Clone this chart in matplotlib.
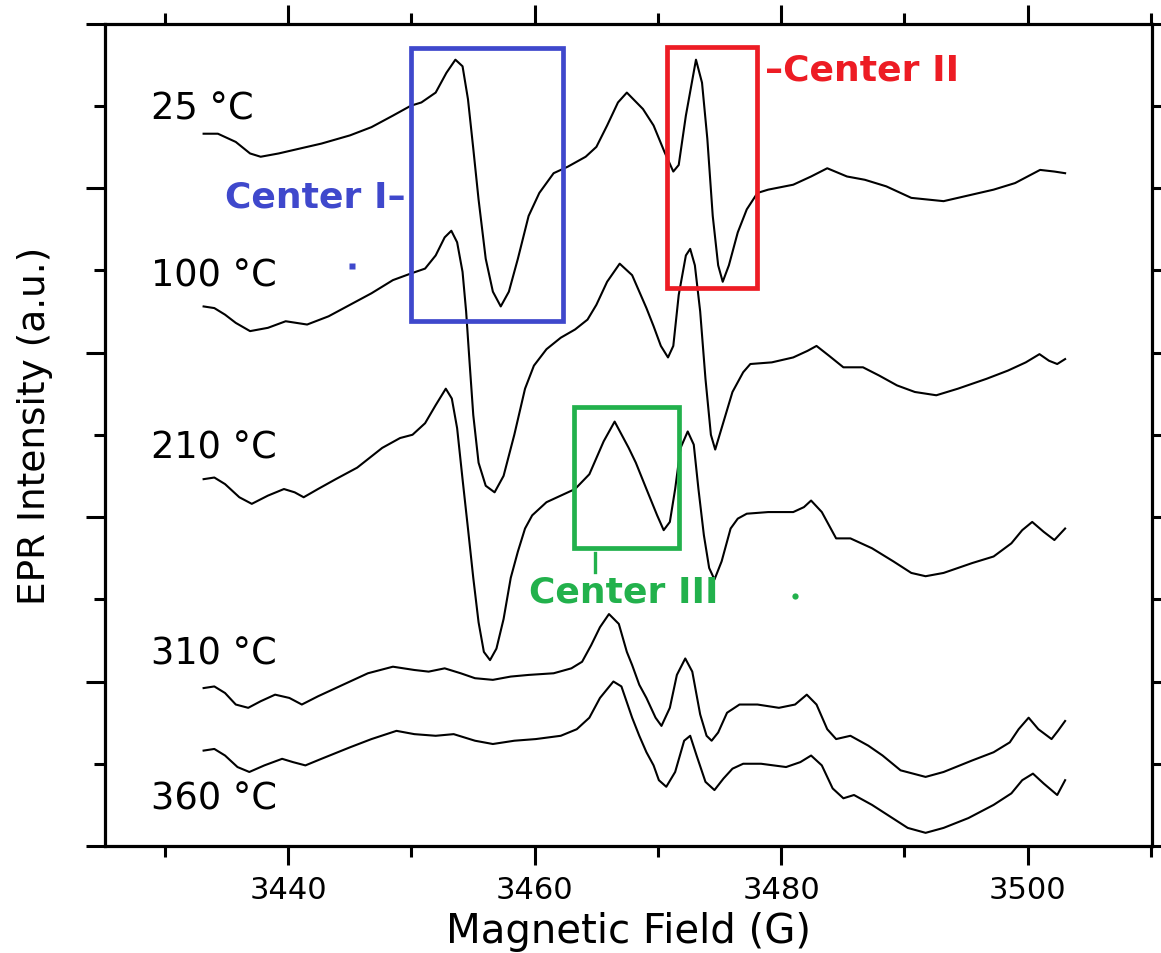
import matplotlib
matplotlib.use("Agg")
import matplotlib.pyplot as plt
from matplotlib.patches import Rectangle
from matplotlib.ticker import MultipleLocator, NullFormatter

# ---------------- data ----------------
field_25 = [3433.15, 3434.31, 3435.76, 3436.92, 3437.78, 3439.24, 3440.97, 3442.71, 3445.03, 3446.77,
            3448.51, 3449.96, 3450.82, 3451.98, 3452.85, 3453.58, 3454.16, 3454.60, 3455.03, 3455.46,
            3456.04, 3456.62, 3457.26, 3457.92, 3458.65, 3459.52, 3460.39, 3461.55, 3462.71, 3464.15,
            3465.02, 3465.89, 3466.77, 3467.49, 3468.80, 3469.66, 3470.54, 3471.26, 3471.70, 3472.28,
            3473.10, 3473.59, 3474.02, 3474.46, 3474.90, 3475.27, 3475.77, 3476.49, 3477.22, 3478.09,
            3478.96, 3480.99, 3482.44, 3483.75, 3485.35, 3486.80, 3488.54, 3490.57, 3493.19, 3495.51,
            3497.25, 3498.99, 3501.02, 3502.18, 3503.05]
int_25 = [4.33, 4.33, 4.28, 4.21, 4.19, 4.21, 4.24, 4.27, 4.32, 4.37,
          4.44, 4.50, 4.52, 4.58, 4.70, 4.78, 4.74, 4.54, 4.24, 3.93,
          3.57, 3.37, 3.28, 3.37, 3.57, 3.83, 3.97, 4.09, 4.13, 4.19,
          4.25, 4.38, 4.52, 4.58, 4.48, 4.38, 4.22, 4.10, 4.14, 4.44,
          4.78, 4.64, 4.30, 3.83, 3.53, 3.43, 3.53, 3.73, 3.87, 3.97,
          3.99, 4.02, 4.07, 4.12, 4.07, 4.05, 4.01, 3.94, 3.92, 3.96,
          3.99, 4.03, 4.11, 4.10, 4.09]

field_100 = [3433.15, 3434.02, 3434.89, 3435.76, 3436.92, 3438.37, 3439.81, 3440.68, 3441.55, 3443.29,
             3445.03, 3446.77, 3448.51, 3449.96, 3451.12, 3451.98, 3452.71, 3453.25, 3453.72, 3454.16,
             3454.45, 3454.73, 3455.03, 3455.46, 3456.04, 3456.76, 3457.49, 3458.36, 3459.23, 3459.95,
             3460.97, 3462.13, 3463.29, 3464.30, 3465.02, 3465.89, 3466.91, 3467.92, 3469.08, 3469.66,
             3470.25, 3470.83, 3471.26, 3471.70, 3472.28, 3472.63, 3473.01, 3473.44, 3473.87, 3474.31,
             3474.66, 3475.18, 3476.06, 3476.93, 3477.51, 3479.25, 3480.99, 3482.15, 3482.88, 3483.90,
             3485.06, 3486.65, 3487.96, 3489.41, 3490.86, 3492.60, 3494.35, 3496.67, 3498.41, 3499.86,
             3500.97, 3501.74, 3502.41, 3503.05]
int_100 = [3.28, 3.27, 3.23, 3.18, 3.13, 3.15, 3.19, 3.18, 3.17, 3.22,
           3.29, 3.36, 3.44, 3.48, 3.51, 3.59, 3.70, 3.74, 3.67, 3.49,
           3.25, 2.94, 2.62, 2.33, 2.19, 2.15, 2.25, 2.50, 2.78, 2.92,
           3.02, 3.09, 3.14, 3.20, 3.29, 3.43, 3.54, 3.47, 3.27, 3.16,
           3.04, 2.97, 3.04, 3.35, 3.59, 3.63, 3.53, 3.25, 2.84, 2.50,
           2.41, 2.54, 2.76, 2.88, 2.93, 2.94, 2.97, 3.01, 3.04, 2.98,
           2.91, 2.91, 2.86, 2.80, 2.76, 2.74, 2.78, 2.84, 2.89, 2.94,
           2.99, 2.95, 2.93, 2.96]

field_210 = [3433.15, 3434.02, 3434.89, 3436.05, 3437.06, 3438.37, 3439.67, 3440.54, 3441.27, 3442.43,
             3443.87, 3445.61, 3447.64, 3449.09, 3450.10, 3451.12, 3451.98, 3452.80, 3453.29, 3453.72,
             3454.16, 3454.60, 3455.03, 3455.46, 3455.89, 3456.39, 3456.91, 3457.49, 3458.07, 3458.65,
             3459.23, 3459.81, 3460.97, 3462.42, 3463.29, 3464.45, 3465.61, 3466.50, 3467.64, 3468.22,
             3469.08, 3469.95, 3470.48, 3470.98, 3471.41, 3471.85, 3472.43, 3472.92, 3473.30, 3473.74,
             3474.17, 3474.60, 3475.18, 3475.91, 3476.49, 3477.22, 3478.96, 3480.99, 3481.86, 3482.44,
             3483.31, 3484.47, 3485.63, 3487.38, 3489.12, 3490.57, 3491.73, 3493.19, 3495.51, 3497.25,
             3498.69, 3499.57, 3500.38, 3501.31, 3502.18, 3503.05]
int_210 = [2.23, 2.24, 2.20, 2.12, 2.08, 2.13, 2.17, 2.15, 2.12, 2.17,
           2.23, 2.30, 2.42, 2.48, 2.50, 2.57, 2.68, 2.78, 2.72, 2.54,
           2.23, 1.93, 1.63, 1.36, 1.18, 1.13, 1.20, 1.38, 1.63, 1.79,
           1.93, 2.01, 2.09, 2.14, 2.17, 2.26, 2.46, 2.58, 2.42, 2.33,
           2.17, 2.01, 1.92, 1.97, 2.17, 2.42, 2.52, 2.44, 2.17, 1.89,
           1.69, 1.62, 1.73, 1.93, 1.99, 2.02, 2.03, 2.03, 2.06, 2.10,
           2.03, 1.87, 1.87, 1.81, 1.73, 1.66, 1.64, 1.66, 1.72, 1.76,
           1.84, 1.92, 1.97, 1.91, 1.86, 1.93]

field_310 = [3433.15, 3434.02, 3434.89, 3435.76, 3436.77, 3437.78, 3438.95, 3440.11, 3441.12, 3442.43,
             3444.45, 3446.48, 3448.51, 3450.25, 3451.41, 3452.71, 3454.01, 3455.17, 3456.62, 3458.07,
             3459.52, 3461.55, 3462.99, 3463.86, 3464.59, 3465.31, 3466.04, 3466.84, 3467.49, 3467.92,
             3468.50, 3469.08, 3469.82, 3470.30, 3470.98, 3471.55, 3472.23, 3472.80, 3473.44, 3473.96,
             3474.37, 3474.90, 3475.62, 3476.63, 3478.09, 3479.83, 3481.14, 3482.09, 3482.88, 3483.75,
             3484.47, 3485.63, 3487.08, 3488.24, 3489.70, 3491.73, 3493.19, 3495.51, 3497.25, 3498.56,
             3499.28, 3500.09, 3500.88, 3501.95, 3502.47, 3503.05]
int_310 = [0.96, 0.97, 0.93, 0.86, 0.84, 0.88, 0.92, 0.90, 0.86, 0.91,
           0.98, 1.05, 1.09, 1.07, 1.06, 1.08, 1.05, 1.02, 1.01, 1.03,
           1.04, 1.05, 1.08, 1.12, 1.22, 1.33, 1.41, 1.35, 1.18, 1.10,
           0.98, 0.90, 0.78, 0.73, 0.84, 1.04, 1.14, 1.06, 0.80, 0.67,
           0.64, 0.69, 0.81, 0.86, 0.86, 0.84, 0.86, 0.92, 0.86, 0.71,
           0.65, 0.67, 0.61, 0.55, 0.46, 0.42, 0.45, 0.52, 0.57, 0.63,
           0.71, 0.78, 0.71, 0.65, 0.70, 0.76]

field_360 = [3433.15, 3434.02, 3434.89, 3435.90, 3436.86, 3438.08, 3439.52, 3440.40, 3441.41, 3442.71,
             3445.03, 3446.77, 3448.80, 3450.25, 3451.98, 3453.44, 3455.17, 3456.62, 3458.36, 3460.10,
             3462.13, 3463.43, 3464.45, 3465.31, 3466.40, 3467.05, 3467.92, 3468.50, 3469.08, 3469.66,
             3470.09, 3470.69, 3471.41, 3472.14, 3472.63, 3473.15, 3473.87, 3474.60, 3475.33, 3476.06,
             3476.93, 3478.38, 3480.41, 3481.57, 3482.44, 3483.31, 3484.19, 3485.06, 3485.92, 3487.38,
             3488.83, 3490.28, 3491.73, 3493.19, 3495.21, 3497.25, 3498.69, 3499.57, 3500.44, 3501.31,
             3502.41, 3503.05]
int_360 = [0.58, 0.59, 0.55, 0.48, 0.45, 0.49, 0.53, 0.51, 0.49, 0.53,
           0.60, 0.65, 0.70, 0.68, 0.67, 0.68, 0.64, 0.62, 0.64, 0.65,
           0.67, 0.71, 0.78, 0.90, 1.00, 0.97, 0.78, 0.67, 0.57, 0.49,
           0.40, 0.36, 0.45, 0.64, 0.67, 0.55, 0.39, 0.34, 0.41, 0.47,
           0.50, 0.50, 0.48, 0.51, 0.55, 0.49, 0.35, 0.29, 0.31, 0.25,
           0.18, 0.11, 0.08, 0.11, 0.17, 0.25, 0.32, 0.40, 0.44, 0.38,
           0.31, 0.40]

temperatures = ["25 °C", "100 °C", "210 °C", "310 °C", "360 °C"]
label_levels = [4.42, 3.41, 2.36, 1.11, 0.23]

x_major_ticks = [3440, 3460, 3480, 3500]

# ---------------- figure ----------------
W, H = 1161, 954
fig = plt.figure(figsize=(W / 100, H / 100), dpi=100)
ax = fig.add_axes([105 / W, (954 - 847) / H, (1152 - 105) / W, (847 - 24.5) / H])

curves = [(field_25, int_25), (field_100, int_100), (field_210, int_210),
          (field_310, int_310), (field_360, int_360)]
for fx, fy in curves:
    ax.plot(fx, fy, color="black", lw=1.5, solid_joinstyle="round")

ax.set_xlim(3425.15, 3510.1)
ax.set_ylim(0, 5)

ax.xaxis.set_minor_locator(MultipleLocator(10))
ax.set_xticks(x_major_ticks)
ax.yaxis.set_major_locator(MultipleLocator(1))
ax.yaxis.set_minor_locator(MultipleLocator(0.5))
ax.yaxis.set_major_formatter(NullFormatter())

ax.tick_params(which="both", direction="out", top=True, right=True, width=2.2, colors="black")
ax.tick_params(which="major", length=14, pad=7, labelsize=22)
ax.tick_params(which="minor", length=8)
for s in ax.spines.values():
    s.set_linewidth(2.3)

ax.set_xlabel("Magnetic Field (G)", fontsize=29, va="baseline")
ax.xaxis.set_label_coords(0.5, -0.117)
ax.set_ylabel("EPR Intensity (a.u.)", fontsize=27, va="center")
ax.yaxis.set_label_coords(-0.067, 0.512)

# temperature labels
for t, lv in zip(temperatures, label_levels):
    ax.text(3428.92, lv, t, fontsize=26.5, ha="left", va="baseline")

# highlight boxes
blue, red, green = "#3F48CC", "#ED1C24", "#22B14C"
ax.add_patch(Rectangle((3450.0, 3.19), 12.32, 1.66, fill=False, ec=blue, lw=3.4, zorder=5))
ax.add_patch(Rectangle((3470.78, 3.39), 7.25, 1.47, fill=False, ec=red, lw=3.4, zorder=5))
ax.add_patch(Rectangle((3463.2, 1.81), 8.56, 0.86, fill=False, ec=green, lw=3.4, zorder=5))

ax.text(3449.55, 3.885, "Center I–", color=blue, fontsize=26, fontweight="bold",
        ha="right", va="baseline")
ax.text(3478.72, 4.662, "–Center II", color=red, fontsize=26, fontweight="bold",
        ha="left", va="baseline")
ax.text(3459.52, 1.486, "Center III", color=green, fontsize=26, fontweight="bold",
        ha="left", va="baseline")
ax.plot([3464.88, 3464.88], [1.663, 1.780], color=green, lw=2.4)
ax.plot([3481.14], [1.521], marker="o", ms=4.5, color=green, mec="none")
ax.plot([3445.23], [3.528], marker="s", ms=5, color=blue, mec="none")

fig.savefig("out.png", dpi=100)
